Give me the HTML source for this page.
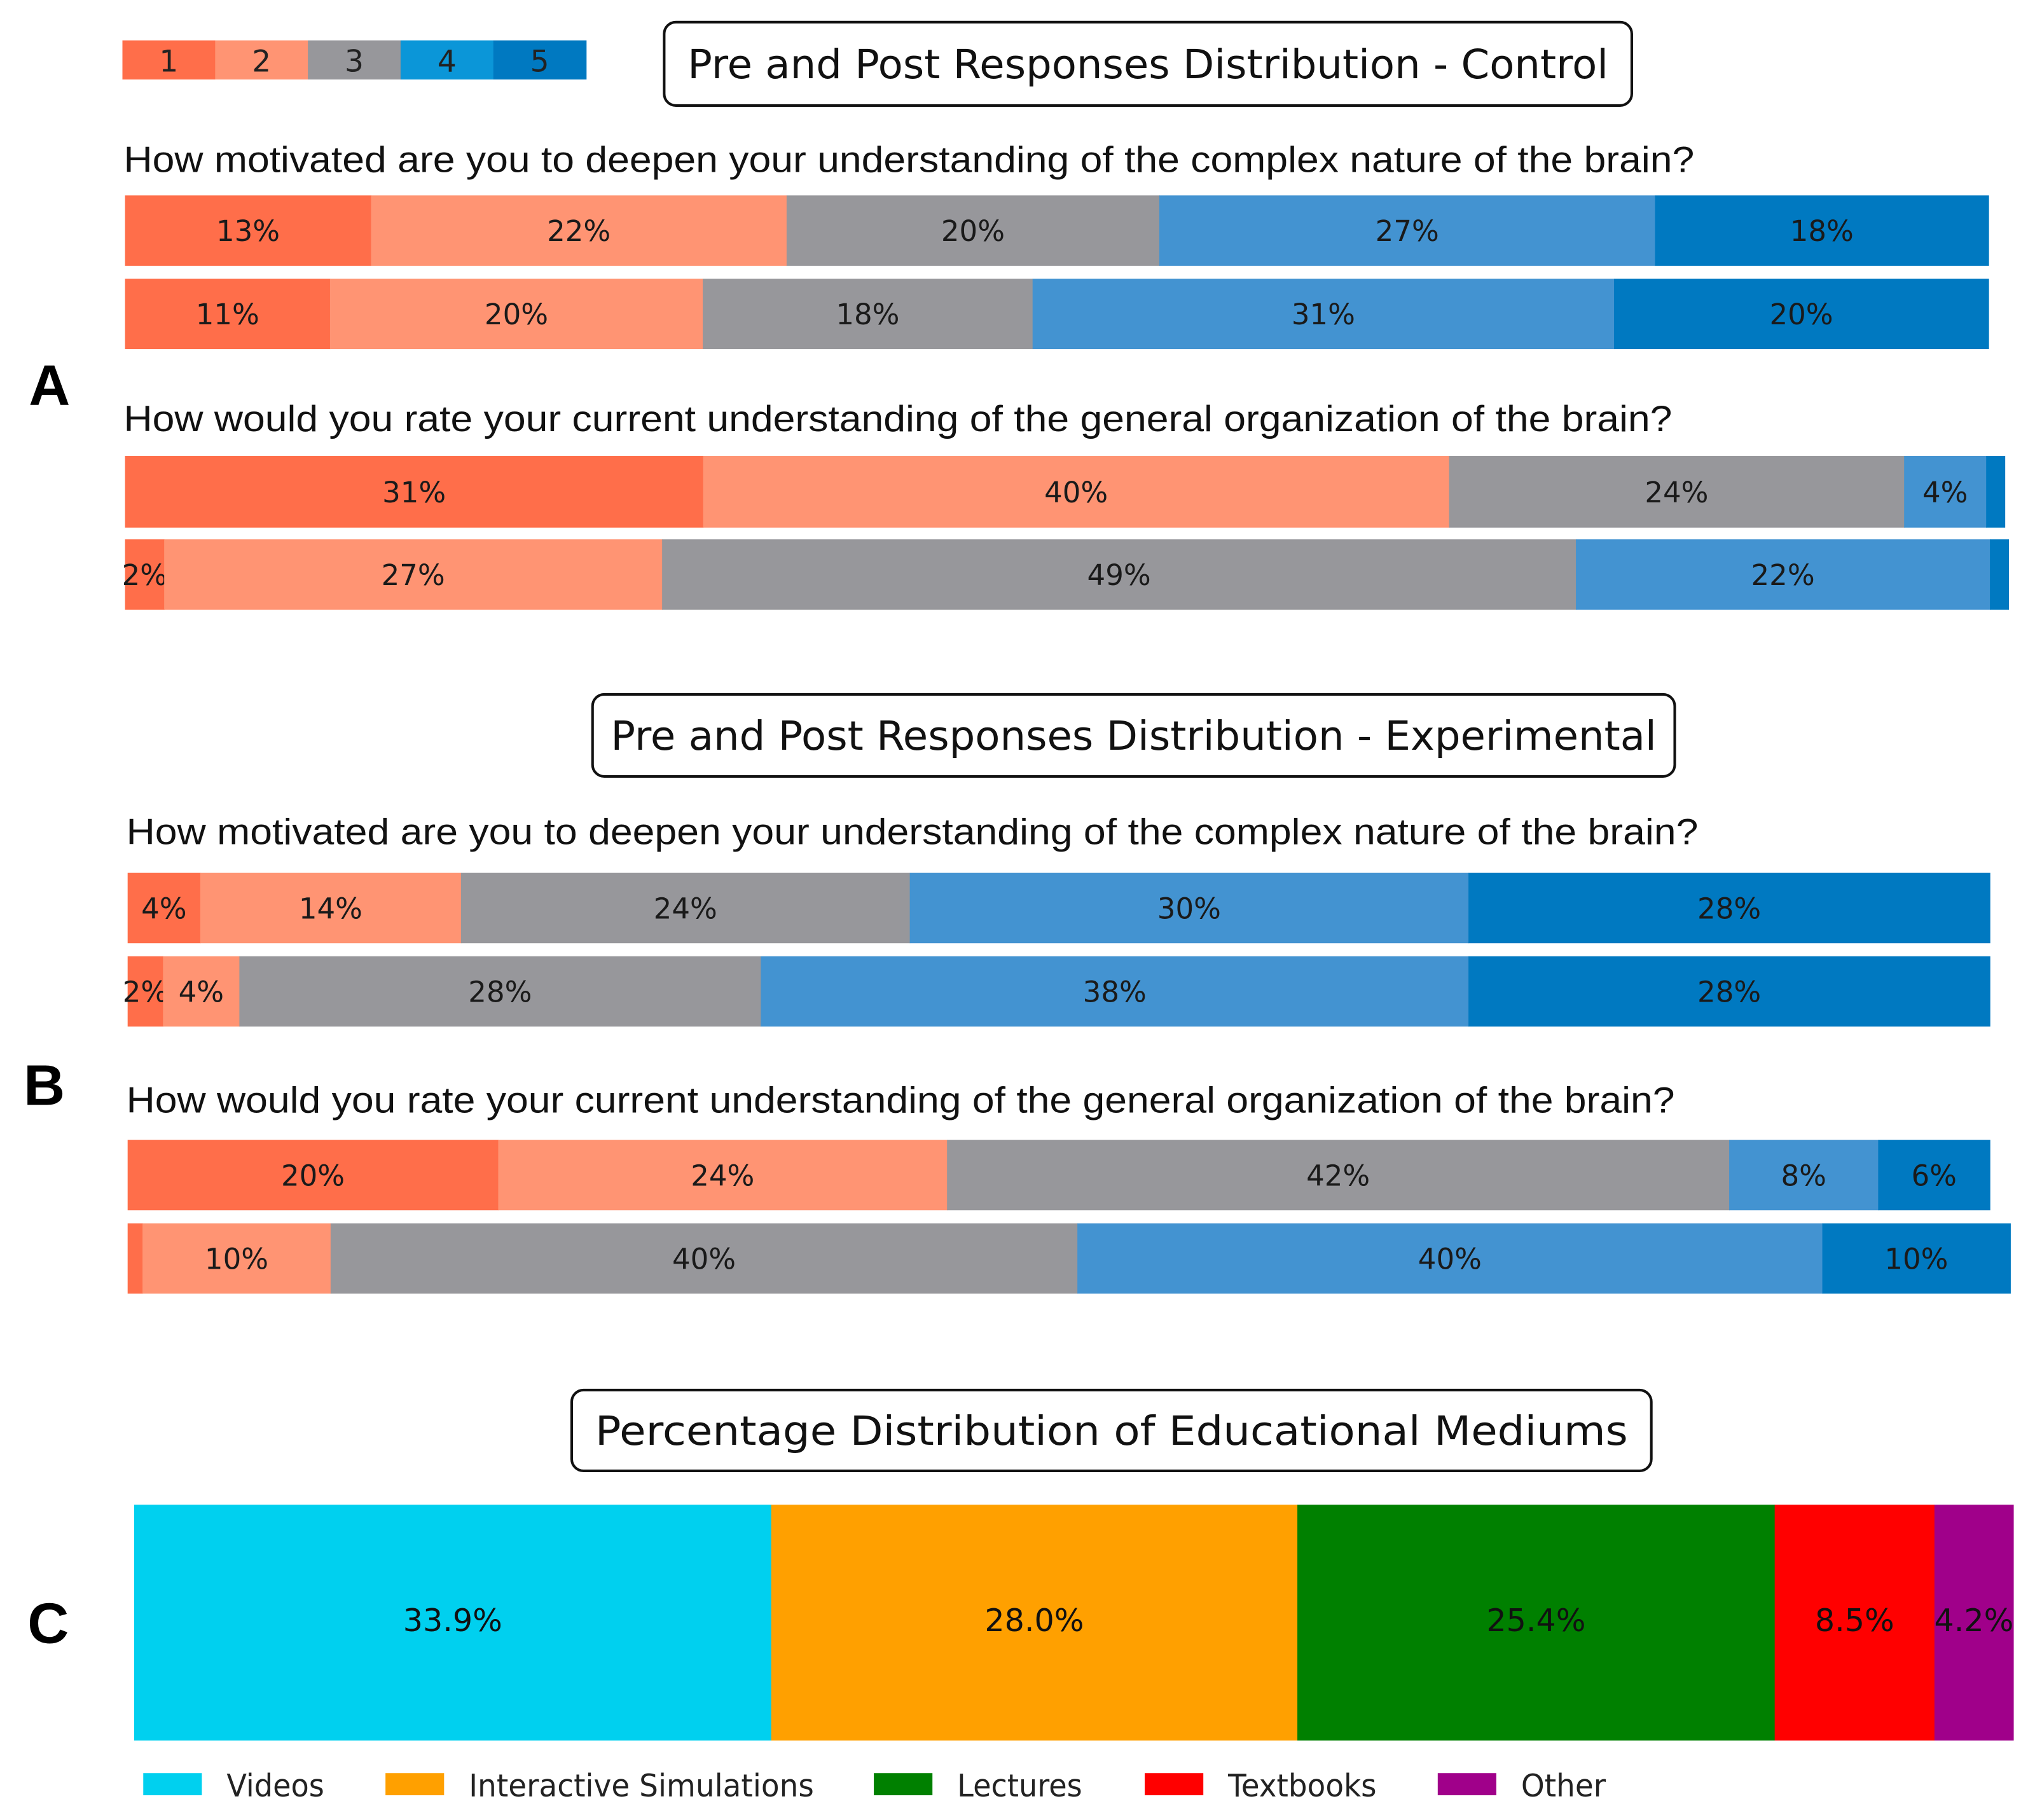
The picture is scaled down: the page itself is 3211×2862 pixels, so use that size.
<!DOCTYPE html>
<html><head><meta charset="utf-8"><style>html,body{margin:0;padding:0;background:#fff;}svg{display:block}</style></head>
<body>
<svg id="fig" width="3211" height="2862" viewBox="0 0 1568 1397" preserveAspectRatio="none" xmlns="http://www.w3.org/2000/svg"></svg>
<script>
// Likert charts data
const likertColors = ['#ff6e4a', '#ff9473', '#97979b', '#4393d1', '#0079c1'];
const legendColors = ['#ff6e4a', '#ff9473', '#97979b', '#0b96d8', '#0079c1'];
const legendLabels = ['1', '2', '3', '4', '5'];
const ctrlQ1Pre = [13.2, 22.3, 20.0, 26.6, 17.9];
const ctrlQ1Post = [11.0, 20.0, 17.7, 31.2, 20.1];
const ctrlQ2Pre = [31.0, 40.0, 24.4, 4.4, 1.0];
const ctrlQ2Post = [2.1, 26.7, 49.0, 22.2, 1.0];
const expQ1Pre = [3.9, 14.0, 24.1, 30.0, 28.0];
const expQ1Post = [1.9, 4.1, 28.0, 38.0, 28.0];
const expQ2Pre = [19.9, 24.1, 42.0, 8.0, 6.0];
const expQ2Post = [0.8, 10.1, 40.1, 40.0, 10.1];
// Educational mediums data
const mediumCategories = ['Videos', 'Interactive Simulations', 'Lectures', 'Textbooks', 'Other'];
const mediumValues = [33.9, 28.0, 25.4, 8.5, 4.2];
const mediumColors = ['#00d0ef', '#ffa000', '#008000', '#ff0000', '#a0008a'];

const svg = document.getElementById('fig');
const NS = 'http://www.w3.org/2000/svg';
function mk(tag, attrs, parent) {
  const e = document.createElementNS(NS, tag);
  for (const k in attrs) e.setAttribute(k, attrs[k]);
  (parent || svg).appendChild(e);
  return e;
}
function txt(s, attrs) { const t = mk('text', attrs); t.textContent = s; return t; }

legendLabels.forEach((l, i) => {
  const r = mk('rect', {x: 94 + i * 71.2, y: 31, width: 71.6, height: 30, fill: legendColors[i]});
  
  
  const t = txt(l, {x: 94 + i * 71.2 + 35.6, y: 55, 'text-anchor': 'middle', 'font-family': 'DejaVu Sans, sans-serif', 'font-size': 23, fill: '#222'});
  
  
});

function titleBox(s, x, y, w, h, tw, name) {
  const r = mk('rect', {x: x, y: y, width: w, height: h, rx: 9, fill: '#fff', stroke: '#111', 'stroke-width': 2});
  
  
  const t = txt(s, {x: x + w / 2, y: y + h / 2 + 11, 'text-anchor': 'middle', 'font-family': 'DejaVu Sans, sans-serif', 'font-size': 31, fill: '#111', textLength: tw, lengthAdjust: 'spacingAndGlyphs'});
  
  
}
function question(s, x, y, w, name) {
  const t = txt(s, {x: x, y: y, 'font-family': 'Liberation Sans, sans-serif', 'font-size': 28, fill: '#111', textLength: w, lengthAdjust: 'spacingAndGlyphs'});
  
  
}
function panel(s, x, y, name) {
  const t = txt(s, {x: x, y: y, 'text-anchor': 'middle', 'font-family': 'Liberation Sans, sans-serif', 'font-weight': 'bold', 'font-size': 44, fill: '#000'});
  
  
}
function likertRow(vals, x0, y, h, scale, name) {
  let x = x0;
  vals.forEach((v, i) => {
    const w = v * scale;
    const r = mk('rect', {x: x, y: y, width: w + 0.3, height: h, fill: likertColors[i]});
    
    
    if (v >= 1.5) {
      const t = txt(Math.round(v) + '%', {x: x + w / 2, y: y + h / 2 + 8, 'text-anchor': 'middle', 'font-family': 'DejaVu Sans, sans-serif', 'font-size': 22, fill: '#1a1a1a'});
      
      
    }
    x += w;
  });
}

titleBox('Pre and Post Responses Distribution - Control', 510, 17, 743, 64, 707, 'control-title');
question('How motivated are you to deepen your understanding of the complex nature of the brain?', 95, 132, 1206, 'control-question-1');
likertRow(ctrlQ1Pre, 96, 150, 54, 14.31, 'control-q1-pre');
likertRow(ctrlQ1Post, 96, 214, 54, 14.31, 'control-q1-post');
panel('A', 38, 311, 'panel-label-a');
question('How would you rate your current understanding of the general organization of the brain?', 95, 331, 1189, 'control-question-2');
likertRow(ctrlQ2Pre, 96, 350, 55, 14.32, 'control-q2-pre');
likertRow(ctrlQ2Post, 96, 414, 54, 14.32, 'control-q2-post');

titleBox('Pre and Post Responses Distribution - Experimental', 455, 533, 831, 63, 803, 'experimental-title');
question('How motivated are you to deepen your understanding of the complex nature of the brain?', 97, 648, 1207, 'experimental-question-1');
likertRow(expQ1Pre, 98, 670, 54, 14.3, 'experimental-q1-pre');
likertRow(expQ1Post, 98, 734, 54, 14.3, 'experimental-q1-post');
panel('B', 34, 848, 'panel-label-b');
question('How would you rate your current understanding of the general organization of the brain?', 97, 854, 1189, 'experimental-question-2');
likertRow(expQ2Pre, 98, 875, 54, 14.3, 'experimental-q2-pre');
likertRow(expQ2Post, 98, 939, 54, 14.3, 'experimental-q2-post');

titleBox('Percentage Distribution of Educational Mediums', 439, 1067, 829, 62, 793, 'mediums-title');
panel('C', 37, 1261, 'panel-label-c');
(function () {
  const x0 = 103, total = 1443;
  const sum = mediumValues.reduce((a, b) => a + b, 0);
  let x = x0;
  mediumValues.forEach((v, i) => {
    const w = v / sum * total;
    const r = mk('rect', {x: x, y: 1155, width: w + 0.3, height: 181, fill: mediumColors[i]});
    
    
    const t = txt(v.toFixed(1) + '%', {x: x + w / 2, y: 1252, 'text-anchor': 'middle', 'font-family': 'DejaVu Sans, sans-serif', 'font-size': 24, fill: '#111'});
    
    
    x += w;
  });
  const lx = [110, 296, 671, 879, 1104];
  const lw = [75, 265, 96, 114, 65];
  mediumCategories.forEach((c, i) => {
    const r = mk('rect', {x: lx[i], y: 1361, width: 45, height: 17, fill: mediumColors[i]});
    
    
    const t = txt(c, {x: lx[i] + 64, y: 1379, 'font-family': 'DejaVu Sans, sans-serif', 'font-size': 24, fill: '#222', textLength: lw[i], lengthAdjust: 'spacingAndGlyphs'});
    
    
  });
})();
</script>
</body></html>
